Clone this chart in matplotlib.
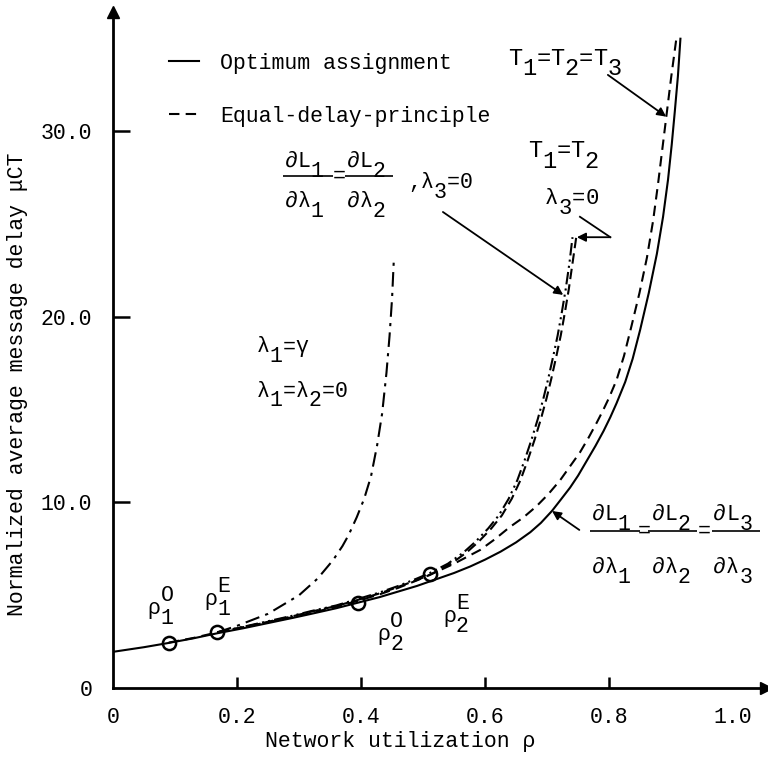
import matplotlib.pyplot as plt

plt.rcParams['font.family'] = ['Liberation Mono', 'DejaVu Sans Mono']

# optimum assignment
rho_opt = [0.0, 0.05, 0.09, 0.13, 0.168, 0.21, 0.25, 0.29, 0.32, 0.36, 0.395,
           0.43, 0.46, 0.49, 0.52, 0.55, 0.576, 0.60, 0.625, 0.65, 0.673,
           0.69, 0.708, 0.722, 0.737, 0.75, 0.764, 0.778, 0.791, 0.802,
           0.812, 0.826, 0.838, 0.85, 0.864, 0.877, 0.887, 0.895, 0.901,
           0.906, 0.911, 0.915]
delay_opt = [1.95, 2.2, 2.43, 2.68, 2.95, 3.22, 3.5, 3.78, 4.0, 4.3, 4.6,
             4.9, 5.2, 5.5, 5.85, 6.2, 6.55, 6.92, 7.35, 7.85, 8.4,
             8.9, 9.55, 10.15, 10.8, 11.45, 12.25, 13.05, 13.85, 14.6,
             15.35, 16.5, 17.75, 19.3, 21.3, 23.4, 25.4, 27.4, 29.3,
             31.1, 33.0, 35.0]

# equal-delay-principle
rho_eq = [0.09, 0.13, 0.168, 0.21, 0.25, 0.29, 0.32, 0.36, 0.395, 0.43, 0.46,
          0.49, 0.511, 0.55, 0.592, 0.615, 0.640, 0.662, 0.683, 0.702, 0.721,
          0.737, 0.753, 0.767, 0.780, 0.790, 0.80, 0.812, 0.824, 0.836,
          0.849, 0.861, 0.871, 0.879, 0.886, 0.893, 0.90, 0.908]
delay_eq = [2.45, 2.7, 3.0, 3.28, 3.55, 3.82, 4.05, 4.38, 4.7, 5.05, 5.4,
            5.8, 6.1, 6.7, 7.44, 8.0, 8.68, 9.2, 9.8, 10.45, 11.2,
            11.95, 12.7, 13.5, 14.3, 14.95, 15.65, 16.6, 17.9, 19.5,
            21.3, 23.2, 25.2, 27.2, 29.1, 31.0, 32.9, 34.9]

# lambda1 = gamma, lambda1 = lambda2 = 0
rho_l1 = [0.168, 0.2, 0.25, 0.3, 0.33, 0.355, 0.37, 0.38, 0.393, 0.405,
          0.416, 0.426, 0.434, 0.441, 0.446, 0.45, 0.453]
delay_l1 = [3.0, 3.35, 4.0, 5.0, 5.9, 6.9, 7.65, 8.25, 9.2, 10.2,
            11.4, 13.1, 14.8, 17.0, 19.0, 21.0, 23.2]

# dL1/dl1 = dL2/dl2, lambda3 = 0
rho_l3a = [0.168, 0.21, 0.25, 0.29, 0.32, 0.36, 0.395, 0.43, 0.46, 0.49,
           0.511, 0.54, 0.565, 0.585, 0.605, 0.622, 0.638, 0.652, 0.664,
           0.675, 0.685, 0.694, 0.702, 0.71, 0.717, 0.724, 0.73, 0.736, 0.741]
delay_l3a = [3.0, 3.3, 3.6, 3.9, 4.15, 4.45, 4.8, 5.15, 5.5, 5.9,
             6.2, 6.7, 7.3, 7.9, 8.6, 9.3, 10.2, 11.2, 12.3,
             13.4, 14.5, 15.6, 16.7, 17.9, 19.0, 20.3, 21.5, 22.9, 24.3]

# T1 = T2, lambda3 = 0
rho_l3b = [0.168, 0.21, 0.25, 0.29, 0.32, 0.36, 0.395, 0.43, 0.46, 0.49,
           0.511, 0.545, 0.57, 0.59, 0.61, 0.627, 0.643, 0.657, 0.669,
           0.68, 0.69, 0.699, 0.707, 0.715, 0.722, 0.729, 0.735, 0.741, 0.747]
delay_l3b = [3.0, 3.28, 3.57, 3.87, 4.12, 4.42, 4.75, 5.1, 5.45, 5.82,
             6.1, 6.7, 7.3, 7.9, 8.6, 9.3, 10.2, 11.2, 12.3,
             13.4, 14.5, 15.6, 16.7, 17.9, 19.0, 20.3, 21.5, 22.9, 24.3]

# marked operating points rho1^O, rho1^E, rho2^O, rho2^E
rho_pts = [0.09, 0.168, 0.395, 0.511]
delay_pts = [2.43, 3.0, 4.6, 6.15]

x_ticks = [0, 0.2, 0.4, 0.6, 0.8, 1.0]
x_labels = ['0', '0.2', '0.4', '0.6', '0.8', '1.0']
y_ticks = [0, 10, 20, 30]
y_labels = ['0', '10.0', '20.0', '30.0']

FS = 15.5

fig = plt.figure(figsize=(7.68, 7.83), dpi=100)
ax = fig.add_axes([113 / 768, 95 / 783, 653 / 768, 676 / 783])
ax.set_xlim(0, 1.053)
ax.set_ylim(0, 36.44)

lw = 1.5
ax.plot(rho_opt, delay_opt, color='k', lw=lw, label='Optimum assignment')
ax.plot(rho_eq, delay_eq, color='k', lw=lw, linestyle=(0, (5, 3)),
        label='Equal-delay-principle')
ax.plot(rho_l1, delay_l1, color='k', lw=lw, linestyle=(0, (7, 3, 1.5, 3)))
ax.plot(rho_l3a, delay_l3a, color='k', lw=lw, linestyle=(0, (6, 2, 1, 2, 1, 2)))
ax.plot(rho_l3b, delay_l3b, color='k', lw=lw, linestyle=(0, (5, 2.5)))
ax.plot(rho_pts, delay_pts, 'o', ms=9.5, mfc='none', mec='k', mew=1.8)

# axes drawn as two arrows
for side in ('top', 'right'):
    ax.spines[side].set_visible(False)
for side in ('left', 'bottom'):
    ax.spines[side].set_linewidth(2)
ax.plot(1, 0, '>', color='k', ms=9, transform=ax.transAxes, clip_on=False)
ax.plot(0, 1, '^', color='k', ms=9, transform=ax.transAxes, clip_on=False)

ax.set_xticks(x_ticks, x_labels)
ax.set_yticks(y_ticks, y_labels)
ax.tick_params(axis='x', direction='in', length=8, width=1.8, pad=14, labelsize=FS)
ax.tick_params(axis='y', direction='in', length=12, width=1.8, pad=15, labelsize=FS)
xt = ax.xaxis.get_major_ticks()
xt[0].tick1line.set_visible(False)
xt[-1].tick1line.set_visible(False)
ax.yaxis.get_major_ticks()[0].tick1line.set_visible(False)

fig.text(18 / 768, 1 - 384 / 783, 'Normalized average message delay μCT',
         rotation=90, ha='center', va='center', fontsize=FS)
fig.text(400 / 768, 1 - 742 / 783, 'Network utilization ρ',
         ha='center', va='center', fontsize=FS)

ax.legend(loc='upper left', bbox_to_anchor=(0.085, 0.940), frameon=False,
          fontsize=FS, handlelength=1.4, handletextpad=1.0, labelspacing=1.5,
          borderpad=0, borderaxespad=0)


def typed(x, y, s, size=FS, sub=-0.45, sup=0.6):
    """Typewriter style text: '_c' and '^c' put c half a line down / up."""
    adv = 0.6 * size
    col = 0
    script_col = None
    i = 0
    while i < len(s):
        c = s[i]
        if c in '_^':
            ch = s[i + 1]
            dy = sub if c == '_' else sup
            if script_col is not None:
                pos = script_col
                script_col = None
            else:
                pos = col
                script_col = col
                col += 1
            ax.annotate(ch, (x, y), xytext=(pos * adv, dy * size),
                        textcoords='offset points', fontsize=size,
                        ha='left', va='baseline')
            i += 2
            continue
        script_col = None
        ax.annotate(c, (x, y), xytext=(col * adv, 0),
                    textcoords='offset points', fontsize=size,
                    ha='left', va='baseline')
        col += 1
        i += 1


def arrow(tail, head):
    ax.annotate('', xy=head, xytext=tail,
                arrowprops=dict(arrowstyle='-|>', color='k', lw=1.3,
                                mutation_scale=13, shrinkA=0, shrinkB=0))


def bar(x0, x1, y):
    ax.plot([x0, x1], [y, y], color='k', lw=1.2, solid_capstyle='butt')


# T1=T2=T3
typed(0.637, 33.6, 'T_1=T_2=T_3', size=17)
arrow((0.798, 33.05), (0.892, 30.8))

# T1=T2, lambda3=0
typed(0.669, 28.6, 'T_1=T_2', size=17)
typed(0.697, 26.1, 'λ_3=0', size=16)
ax.plot([0.753, 0.802], [25.4, 24.3], color='k', lw=1.3)
arrow((0.802, 24.3), (0.748, 24.3))

# dL1/dl1 = dL2/dl2 , lambda3=0
typed(0.277, 28.09, '∂L_1')
typed(0.377, 28.09, '∂L_2')
bar(0.274, 0.355, 27.6)
bar(0.374, 0.452, 27.6)
ax.annotate('=', (0.3645, 27.6), fontsize=FS, ha='center', va='center')
typed(0.277, 25.93, '∂λ_1')
typed(0.377, 25.93, '∂λ_2')
typed(0.476, 26.95, ',λ_3=0')
arrow((0.532, 25.66), (0.726, 21.19))

# lambda1 = gamma
typed(0.232, 18.1, 'λ_1=γ')
typed(0.232, 15.7, 'λ_1=λ_2=0')

# dL1/dl1 = dL2/dl2 = dL3/dl3
for k, xs in enumerate((0.772, 0.869, 0.968), start=1):
    typed(xs, 9.06, '∂L_%d' % k)
    typed(xs, 6.2, '∂λ_%d' % k)
bar(0.769, 0.850, 8.46)
bar(0.863, 0.942, 8.46)
bar(0.966, 1.043, 8.46)
ax.annotate('=', (0.8565, 8.46), fontsize=FS, ha='center', va='center')
ax.annotate('=', (0.9535, 8.46), fontsize=FS, ha='center', va='center')
arrow((0.752, 8.52), (0.708, 9.54))

# operating point labels
typed(0.056, 3.99, 'ρ_1^O')
typed(0.148, 4.47, 'ρ_1^E')
typed(0.426, 2.59, 'ρ_2^O')
typed(0.532, 3.56, 'ρ_2^E')

fig.savefig('out.png', dpi=100)
